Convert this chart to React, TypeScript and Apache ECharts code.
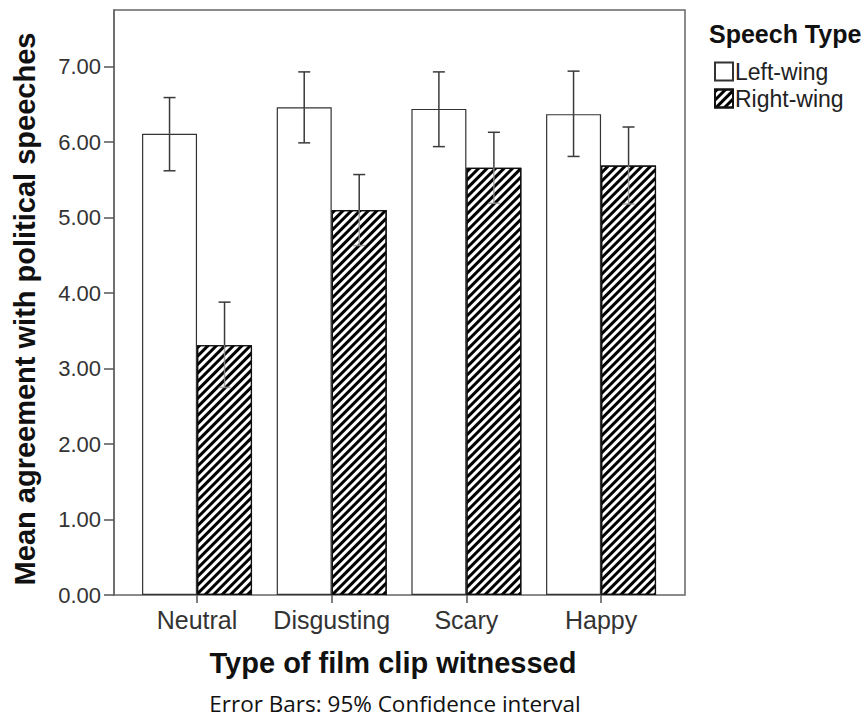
import React, { useEffect, useRef } from "react";
import * as echarts from "echarts";

const categories = ["Neutral", "Disgusting", "Scary", "Happy"];
const leftMeans = [6.11, 6.46, 6.44, 6.37];
const leftLow = [5.62, 5.99, 5.94, 5.81];
const leftHigh = [6.59, 6.93, 6.93, 6.94];
const rightMeans = [3.31, 5.1, 5.66, 5.69];
const rightLow = [2.75, 4.63, 5.19, 5.18];
const rightHigh = [3.88, 5.57, 6.13, 6.2];
const yTicks = [0, 1, 2, 3, 4, 5, 6, 7];
const seriesNames = ["Left-wing", "Right-wing"];

const FONT = "'Liberation Sans', Arial, sans-serif";
const BAR_W = 55;

const hatch = {
  symbol: "rect",
  symbolSize: 1,
  dashArrayX: [1, 0],
  dashArrayY: [2.6, 2.4],
  rotation: -Math.PI / 4,
  color: "#000",
  backgroundColor: "#fff",
};

function errorSeries(name: string, low: number[], high: number[], mean: number[], offset: number, innerColor: string) {
  return {
    type: "custom",
    name: name + " CI",
    xAxisIndex: 1,
    yAxisIndex: 1,
    z: 5,
    silent: true,
    data: categories.map((_, i) => [i, low[i], high[i], mean[i]]),
    renderItem: (params: any, api: any) => {
      const idx = api.value(0);
      const lo = api.coord([idx, api.value(1)]);
      const hi = api.coord([idx, api.value(2)]);
      const md = api.coord([idx, api.value(3)]);
      const x = lo[0] + offset;
      const cap = 6;
      const dark = { stroke: "#3a3a3a", lineWidth: 1.5 };
      return {
        type: "group",
        children: [
          { type: "line", shape: { x1: x, y1: hi[1], x2: x, y2: md[1] }, style: dark },
          { type: "line", shape: { x1: x, y1: md[1], x2: x, y2: lo[1] }, style: { stroke: innerColor, lineWidth: 1.5 } },
          { type: "line", shape: { x1: x - cap, y1: hi[1], x2: x + cap, y2: hi[1] }, style: dark },
          { type: "line", shape: { x1: x - cap, y1: lo[1], x2: x + cap, y2: lo[1] }, style: { stroke: innerColor, lineWidth: 1.5 } },
        ],
      };
    },
  };
}

export default function App() {
  const ref = useRef<HTMLDivElement>(null);
  useEffect(() => {
    document.body.style.margin = "0";
    const chart = echarts.init(ref.current!, undefined, { renderer: "svg" });
    const option: any = {
      animation: false,
      backgroundColor: "#fff",
      title: {
        text: "Speech Type",
        left: 704,
        top: 16,
        textStyle: { fontFamily: FONT, fontSize: 25, fontWeight: "bold", color: "#111" },
      },
      legend: {
        orient: "vertical",
        left: 709,
        top: 55,
        itemWidth: 18,
        itemHeight: 18,
        itemGap: 4,
        icon: "rect",
        data: seriesNames,
        textStyle: { fontFamily: FONT, fontSize: 23, color: "#222", padding: [0, 0, 0, -3] },
      },
      grid: [
        { left: 114, top: 10, width: 571, height: 585, show: true, borderColor: "#666", borderWidth: 1.5, backgroundColor: "transparent" },
        { left: 129.7, top: 10, width: 538.7, height: 585 },
      ],
      xAxis: [
        { type: "value", gridIndex: 0, min: 0, max: 1, show: false },
        {
          type: "category",
          gridIndex: 1,
          data: categories,
          axisLine: { show: false },
          axisTick: { show: true, alignWithLabel: true, interval: 0, length: 8, lineStyle: { color: "#555", width: 1.5 } },
          axisLabel: { interval: 0, fontFamily: FONT, fontSize: 25, color: "#333", margin: 12 },
        },
      ],
      yAxis: [
        {
          type: "value",
          gridIndex: 0,
          min: 0,
          max: 7.75,
          interval: 1,
          splitLine: { show: false },
          axisLine: { show: true, lineStyle: { color: "#666", width: 1.5 } },
          axisTick: { show: true, length: 10, customValues: yTicks, lineStyle: { color: "#555", width: 1.5 } },
          axisLabel: {
            customValues: yTicks,
            formatter: (v: number) => v.toFixed(2),
            fontFamily: FONT,
            fontSize: 22,
            color: "#333",
            margin: 13,
          },
        },
        { type: "value", gridIndex: 1, min: 0, max: 7.75, show: false },
      ],
      series: [
        {
          type: "bar",
          name: seriesNames[0],
          xAxisIndex: 1,
          yAxisIndex: 1,
          barWidth: BAR_W,
          barGap: "0%",
          data: leftMeans,
          itemStyle: { color: "#fff", borderColor: "#333", borderWidth: 1.2 },
        },
        {
          type: "bar",
          name: seriesNames[1],
          xAxisIndex: 1,
          yAxisIndex: 1,
          barWidth: BAR_W,
          barGap: "0%",
          data: rightMeans,
          itemStyle: { color: "#fff", borderColor: "#111", borderWidth: 1.2, decal: hatch },
        },
        errorSeries(seriesNames[0], leftLow, leftHigh, leftMeans, -BAR_W / 2, "#3a3a3a"),
        errorSeries(seriesNames[1], rightLow, rightHigh, rightMeans, BAR_W / 2, "rgba(150,150,150,0.8)"),
      ],
      graphic: [
        {
          type: "text",
          x: 25,
          y: 309,
          rotation: Math.PI / 2,
          style: {
            text: "Mean agreement with political speeches",
            fontFamily: FONT,
            fontSize: 29,
            fontWeight: "bold",
            fill: "#111",
            align: "center",
            verticalAlign: "middle",
          },
        },
        {
          type: "text",
          x: 393,
          y: 663,
          style: {
            text: "Type of film clip witnessed",
            fontFamily: FONT,
            fontSize: 29,
            fontWeight: "bold",
            fill: "#111",
            align: "center",
            verticalAlign: "middle",
          },
        },
        {
          type: "text",
          x: 395,
          y: 703,
          style: {
            text: "Error Bars: 95% Confidence interval",
            fontFamily: "'Open Sans', 'Noto Sans', sans-serif",
            fontSize: 22.5,
            fill: "#111",
            align: "center",
            verticalAlign: "middle",
          },
        },
      ],
    };
    chart.setOption(option);
    return () => chart.dispose();
  }, []);
  return <div ref={ref} style={{ width: 865, height: 722 }} />;
}
